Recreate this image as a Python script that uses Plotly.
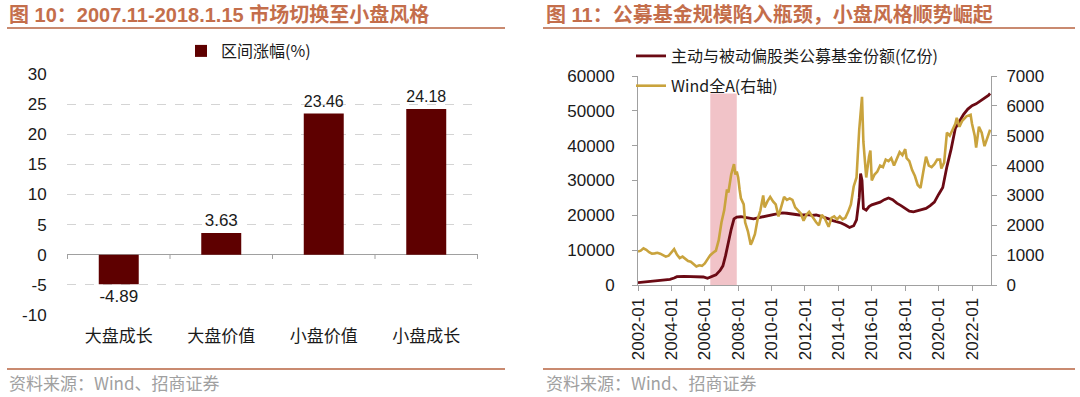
import plotly.graph_objects as go

W, H = 1080, 397

# ---------------- Left chart data ----------------
bar_categories = ["大盘成长", "大盘价值", "小盘价值", "小盘成长"]
bar_values = [-4.89, 3.63, 23.46, 24.18]
bar_series_name = "区间涨幅(%)"
bar_ticks = [30, 25, 20, 15, 10, 5, 0, -5, -10]

# ---------------- Right chart data ----------------
fund_dates = ["2002-01", "2002-06", "2003-01", "2003-06", "2003-12", "2004-03", "2004-05", "2004-10",
              "2005-03", "2005-08", "2005-12", "2006-03", "2006-06", "2006-09", "2006-12", "2007-02",
              "2007-04", "2007-06", "2007-08", "2007-10", "2007-12", "2008-03", "2008-06", "2008-09",
              "2008-12", "2009-03", "2009-06", "2009-09", "2009-12", "2010-03", "2010-06", "2010-09",
              "2010-12", "2011-03", "2011-06", "2011-09", "2011-12", "2012-03", "2012-06", "2012-09",
              "2012-12", "2013-03", "2013-06", "2013-09", "2013-12", "2014-03", "2014-06", "2014-09",
              "2014-12", "2015-02", "2015-04", "2015-05", "2015-06", "2015-07", "2015-09", "2015-11",
              "2016-01", "2016-04", "2016-07", "2016-10", "2017-01", "2017-04", "2017-07", "2017-10",
              "2018-01", "2018-04", "2018-07", "2018-10", "2019-01", "2019-04", "2019-07", "2019-10",
              "2020-01", "2020-04", "2020-07", "2020-10", "2021-01", "2021-04", "2021-07", "2021-10",
              "2022-01", "2022-04", "2022-07", "2022-10", "2023-01", "2023-02"]
fund_shares = [700, 900, 1100, 1300, 1600, 2000, 2400, 2450,
               2400, 2450, 2300, 1900, 2300, 2900, 4200, 5500,
               8500, 12500, 16000, 19000, 19500, 19600, 19300, 19200,
               19000, 19300, 19500, 19800, 20100, 20300, 20500, 20700,
               20600, 20400, 20300, 20100, 20100, 20200, 20000, 20100,
               19800, 19500, 19000, 18500, 18200, 17800, 17200, 16500,
               17000, 18700, 25000, 32000, 30000, 22000, 21500, 22500,
               23000, 23300, 23800, 24500, 25000, 24500, 23500, 22800,
               22000, 21200, 21000, 21300, 21500, 22000, 22800, 23800,
               26000, 28000, 34000, 39000, 45000, 47000, 49000, 50500,
               51500, 52000, 52800, 53500, 54500, 55000]

winda_dates = ["2002-01", "2002-03", "2002-05", "2002-07", "2002-09", "2002-11", "2003-01", "2003-03",
               "2003-05", "2003-07", "2003-09", "2003-11", "2004-01", "2004-03", "2004-05", "2004-07",
               "2004-09", "2004-11", "2005-01", "2005-03", "2005-05", "2005-07", "2005-09", "2005-11",
               "2006-01", "2006-03", "2006-05", "2006-07", "2006-09", "2006-11", "2007-01", "2007-03",
               "2007-05", "2007-06", "2007-08", "2007-10", "2007-11", "2007-12", "2008-01", "2008-02",
               "2008-03", "2008-05", "2008-06", "2008-08", "2008-10", "2008-11", "2009-01", "2009-03",
               "2009-05", "2009-07", "2009-08", "2009-10", "2009-12", "2010-02", "2010-04", "2010-06",
               "2010-08", "2010-10", "2010-12", "2011-02", "2011-04", "2011-06", "2011-08", "2011-10",
               "2011-12", "2012-02", "2012-04", "2012-06", "2012-09", "2012-11", "2013-01", "2013-03",
               "2013-06", "2013-08", "2013-10", "2013-12", "2014-02", "2014-04", "2014-06", "2014-08",
               "2014-10", "2014-12", "2015-02", "2015-04", "2015-06", "2015-07", "2015-08", "2015-09",
               "2015-11", "2015-12", "2016-01", "2016-03", "2016-05", "2016-07", "2016-09", "2016-11",
               "2017-01", "2017-03", "2017-05", "2017-07", "2017-09", "2017-11", "2018-01", "2018-02",
               "2018-04", "2018-06", "2018-08", "2018-10", "2018-12", "2019-02", "2019-04", "2019-06",
               "2019-08", "2019-10", "2019-12", "2020-02", "2020-03", "2020-05", "2020-07", "2020-09",
               "2020-11", "2021-01", "2021-02", "2021-04", "2021-06", "2021-09", "2021-12", "2022-01",
               "2022-03", "2022-04", "2022-06", "2022-08", "2022-10", "2022-12", "2023-02"]
winda_index = [1120, 1150, 1230, 1180, 1100, 1050, 1060, 1080,
               1050, 1000, 950, 980, 1080, 1200, 1020, 900,
               950, 880, 800, 780, 700, 620, 660, 640,
               720, 850, 1000, 1080, 1150, 1500, 2100, 2500,
               3200, 3100, 3700, 4050, 3700, 3800, 3600, 3200,
               2900, 2700, 2100, 1800, 1350, 1450, 1700, 2200,
               2500, 3000, 2600, 2800, 2950, 2800, 2700, 2300,
               2600, 2950, 2850, 2900, 2850, 2600, 2500, 2400,
               2150, 2350, 2450, 2300, 2100, 2000, 2350, 2250,
               1950, 2250, 2300, 2200, 2300, 2200, 2250, 2450,
               2700, 3300, 3600, 5200, 6300, 4800, 4100, 3600,
               4300, 4500, 3500, 3700, 3800, 4000, 3950, 4200,
               4150, 4250, 4000, 4200, 4450, 4350, 4550, 4250,
               4150, 3850, 3650, 3350, 3250, 3800, 4300, 4000,
               3950, 4050, 4200, 4200, 3900, 4100, 5100, 5000,
               5200, 5400, 5600, 5300, 5500, 5650, 5700, 5400,
               5000, 4600, 5300, 5100, 4650, 4950, 5200]

fund_name = "主动与被动偏股类公募基金份额(亿份)"
winda_name = "Wind全A(右轴)"
shade_start, shade_end, shade_top = "2006-05-01", "2007-12-01", 55000
x_range = ["2002-01-01", "2023-02-20"]

title_left = "<b>图 10：2007.11-2018.1.15 市场切换至小盘风格</b>"
title_right = "<b>图 11：公募基金规模陷入瓶颈，小盘风格顺势崛起</b>"
source_text = "资料来源：Wind、招商证券"

# ---------------- Styles ----------------
FONT = "Liberation Sans, Arial, Noto Sans CJK SC, sans-serif"
CJK = "Noto Sans CJK SC, Liberation Sans, sans-serif"
TXT = "#1a1a1a"
BAR_C = "#5E0000"
MAROON = "#6B0A14"
GOLD = "#C9A33D"
TITLE_C = "#C46E4B"
RULE_C = "#C98A70"
AXIS_C = "#A0A0A0"

def px_x(p):
    return p / W

def px_y(p):
    return (H - p) / H

fig = go.Figure()

fig.add_trace(go.Bar(
    x=bar_categories, y=bar_values, name=bar_series_name,
    marker=dict(color=BAR_C, line=dict(width=0)),
    text=[f"{v:.2f}" for v in bar_values], textposition="outside",
    textfont=dict(size=17, color=TXT, family=FONT), cliponaxis=False,
    xaxis="x", yaxis="y", legend="legend", showlegend=True,
))

fig.add_trace(go.Scatter(
    x=fund_dates, y=fund_shares, name=fund_name, mode="lines",
    line=dict(color=MAROON, width=2.8), xaxis="x2", yaxis="y2",
    legend="legend2", legendgroup="a",
))
fig.add_trace(go.Scatter(
    x=winda_dates, y=winda_index, name=winda_name, mode="lines",
    line=dict(color=GOLD, width=2.6), xaxis="x2", yaxis="y3",
    legend="legend2", legendgroup="b",
))

shapes = []
# shaded period on right chart
shapes.append(dict(type="rect", xref="x2", yref="y2", x0=shade_start, x1=shade_end,
                   y0=0, y1=shade_top, fillcolor="#F1C3C8", line=dict(width=0), layer="below"))
# category boundary ticks on the zero line of the bar chart
for i in range(len(bar_categories) + 1):
    shapes.append(dict(type="line", xref="x", yref="y", x0=i - 0.5, x1=i - 0.5, y0=0, y1=-0.7,
                       line=dict(color=AXIS_C, width=1)))
# title and footer rules
for x0, x1 in [(7, 505), (543, 1075)]:
    shapes.append(dict(type="line", xref="paper", yref="paper", x0=px_x(x0), x1=px_x(x1),
                       y0=px_y(28), y1=px_y(28), line=dict(color=RULE_C, width=2)))
    shapes.append(dict(type="line", xref="paper", yref="paper", x0=px_x(x0), x1=px_x(x1),
                       y0=px_y(369), y1=px_y(369), line=dict(color=RULE_C, width=2)))

annotations = []
for x0, t in [(7, title_left), (544, title_right)]:
    annotations.append(dict(text=t, xref="paper", yref="paper", x=px_x(x0), y=px_y(15),
                            xanchor="left", yanchor="middle", showarrow=False,
                            font=dict(size=20, color=TITLE_C, family=FONT)))
for x0 in [7, 544]:
    annotations.append(dict(text=source_text, xref="paper", yref="paper", x=px_x(x0), y=px_y(382),
                            xanchor="left", yanchor="middle", showarrow=False,
                            font=dict(size=17, color="#A0A0A0", family=CJK)))

fig.update_layout(
    width=W, height=H, margin=dict(l=0, r=0, t=0, b=0, autoexpand=False),
    paper_bgcolor="white", plot_bgcolor="white",
    font=dict(family=FONT, size=17, color=TXT),
    bargap=0.61,
    shapes=shapes, annotations=annotations,
    xaxis=dict(domain=[px_x(67), px_x(478)], anchor="y", showline=False, showgrid=False,
               zeroline=False, ticks="outside", ticklen=6, tickcolor="rgba(0,0,0,0)",
               tickfont=dict(family=CJK, size=17, color=TXT), fixedrange=True),
    yaxis=dict(domain=[px_y(315), px_y(74)], anchor="x", range=[-10, 30],
               tickvals=bar_ticks, ticktext=[str(t) for t in bar_ticks],
               showline=False, showgrid=True, gridcolor="#D4D4D4",
               griddash="dash", gridwidth=1, zeroline=True, zerolinecolor=AXIS_C, zerolinewidth=1.2,
               ticks="outside", ticklen=16, tickcolor="rgba(0,0,0,0)",
               tickfont=dict(size=17, color=TXT)),
    xaxis2=dict(domain=[px_x(638), px_x(991)], anchor="y2", type="date", range=x_range,
                tick0="2002-01-01", dtick="M24", tickformat="%Y-%m", tickangle=-90,
                showline=True, linecolor=AXIS_C, linewidth=1, ticks="outside", ticklen=5,
                tickcolor=AXIS_C, showgrid=False, zeroline=False,
                tickfont=dict(size=17, color=TXT)),
    yaxis2=dict(domain=[px_y(285), px_y(76)], anchor="x2", range=[0, 60000], dtick=10000,
                tickformat="d",
                showline=True, linecolor=AXIS_C, linewidth=1, ticks="outside", ticklen=5,
                tickcolor=AXIS_C, showgrid=False, zeroline=False, ticklabelstandoff=14,
                tickfont=dict(size=17, color=TXT)),
    yaxis3=dict(domain=[px_y(285), px_y(76)], anchor="x2", overlaying="y2", side="right",
                range=[0, 7000], dtick=1000, tickformat="d", showline=True, linecolor=AXIS_C,
                linewidth=1, ticks="outside", ticklen=5, tickcolor=AXIS_C, showgrid=False,
                zeroline=False, ticklabelstandoff=6, tickfont=dict(size=17, color=TXT)),
    legend=dict(x=px_x(181), y=px_y(34), xanchor="left", yanchor="top",
                bgcolor="rgba(0,0,0,0)", font=dict(family=CJK, size=16, color=TXT),
                itemwidth=30),
    legend2=dict(x=px_x(631), y=px_y(39), xanchor="left", yanchor="top",
                 bgcolor="rgba(0,0,0,0)", font=dict(family=CJK, size=16, color=TXT),
                 tracegroupgap=6, itemwidth=30),
)

fig.write_html("out.html", config={"displayModeBar": False},
               post_script="document.body.style.margin='0px';document.body.style.padding='0px';")
